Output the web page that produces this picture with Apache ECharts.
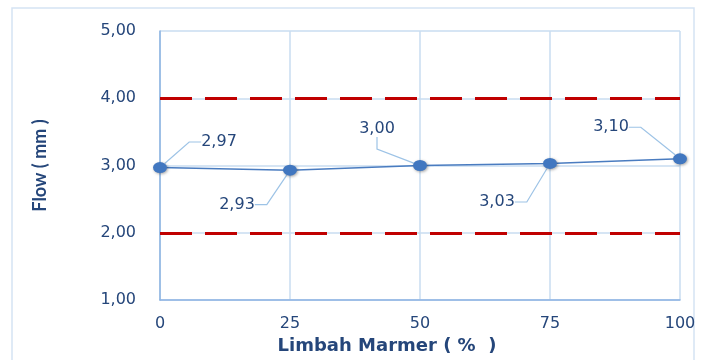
<!DOCTYPE html>
<html>
<head>
<meta charset="utf-8">
<script src="https://cdn.jsdelivr.net/npm/echarts@6/dist/echarts.min.js"></script>
<style>
  html, body { margin: 0; padding: 0; background: #fff; }
  #chart { width: 708px; height: 360px; }
</style>
</head>
<body>
<div id="chart"></div>
<script>
// Flow test results against marble waste content
const wasteLevels = [0, 25, 50, 75, 100];
const flowValues = [2.97, 2.93, 3.00, 3.03, 3.10];
const flowLimits = [2.00, 4.00];
const yTicks = [1, 2, 3, 4, 5];

const xTitle = 'Limbah Marmer ( %  )';
const yTitle = 'Flow ( mm )';

// label displacement for each callout (dx, dy from default top position)
const calloutShift = [[59, -7], [-53, 53], [-43, -18], [-53, 57], [-69, -13]];

const textColor = '#25467a';
const fontFamily = '"DejaVu Sans", Verdana, sans-serif';
const fmt = v => Number(v).toFixed(2).replace('.', ',');

const chart = echarts.init(document.getElementById('chart'), null, { renderer: 'canvas' });

chart.setOption({
  animation: false,
  backgroundColor: '#ffffff',
  graphic: [{
    type: 'rect',
    shape: { x: 12, y: 8, width: 682, height: 400 },
    style: { fill: 'none', stroke: '#d5e3f4', lineWidth: 1.5 },
    silent: true, z: -1
  }],
  grid: { left: 160, right: 28, top: 31, bottom: 60 },
  xAxis: {
    type: 'value',
    min: 0, max: 100, interval: 25,
    name: xTitle,
    nameLocation: 'middle',
    nameGap: 37,
    nameTextStyle: {
      color: textColor, fontSize: 18, fontWeight: 'bold', fontFamily,
      padding: [0, 66, 0, 0]
    },
    axisLine: { show: true, lineStyle: { color: '#8db3e2', width: 1.5 } },
    axisTick: { show: false },
    axisLabel: { color: textColor, fontSize: 16, fontFamily, margin: 16 },
    splitLine: { show: true, lineStyle: { color: '#c9dcf1', width: 1.5 } }
  },
  yAxis: {
    type: 'value',
    min: yTicks[0], max: yTicks[yTicks.length - 1], interval: 1,
    name: yTitle,
    nameLocation: 'middle',
    nameGap: 111,
    nameRotate: 90,
    nameTextStyle: {
      color: textColor, fontSize: 18, fontWeight: 'bold', fontFamily: 'Lato, "Liberation Sans", sans-serif',
      padding: [0, 0, 0, 0]
    },
    axisLine: { show: true, lineStyle: { color: '#8db3e2', width: 1.5 } },
    axisTick: { show: false },
    axisLabel: { color: textColor, fontSize: 16, fontFamily, margin: 24, formatter: fmt },
    splitLine: { show: true, lineStyle: { color: '#c9dcf1', width: 1.5 } }
  },
  series: [{
    type: 'line',
    data: wasteLevels.map((x, i) => [x, flowValues[i]]),
    symbol: 'circle',
    symbolSize: [14, 11],
    lineStyle: { color: '#4a7cc0', width: 1.5 },
    itemStyle: {
      color: '#4177c0',
      shadowColor: 'rgba(0,0,0,0.35)', shadowBlur: 3, shadowOffsetX: 1, shadowOffsetY: 1
    },
    label: {
      show: true,
      position: 'top',
      distance: 5,
      color: textColor,
      fontSize: 16,
      fontFamily,
      formatter: p => fmt(p.value[1])
    },
    labelLine: {
      show: true,
      length2: 12,
      lineStyle: { color: '#9dc3e6', width: 1.2 }
    },
    labelLayout: p => ({ dx: calloutShift[p.dataIndex][0], dy: calloutShift[p.dataIndex][1] }),
    markLine: {
      silent: true,
      symbol: 'none',
      label: { show: false },
      lineStyle: { color: '#c00000', width: 3, type: [32, 13] },
      data: flowLimits.map(v => ({ yAxis: v }))
    },
    z: 3
  }]
});
</script>
</body>
</html>
